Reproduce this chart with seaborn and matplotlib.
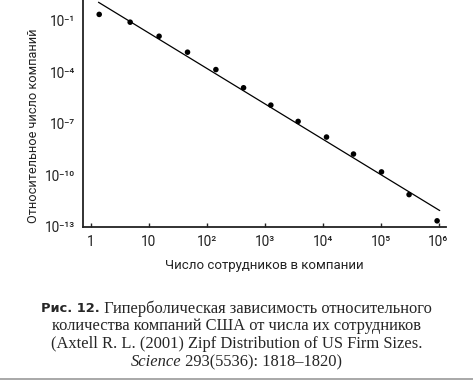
import numpy as np
import pandas as pd
import matplotlib
matplotlib.use("Agg")
import matplotlib.pyplot as plt
import seaborn as sns
from matplotlib.lines import Line2D

# --- данные ---
employees = [1.41, 4.82, 15.2, 47.0, 145, 435, 1285, 3795, 11720, 34200, 104000, 311000, 946000]
rel_freq = [2.3e-1, 8.1e-2, 1.23e-2, 1.45e-3, 1.41e-4, 1.23e-5, 1.2e-6, 1.35e-7,
            1.66e-8, 1.7e-9, 1.55e-10, 7.4e-12, 2.2e-13]
fit_x = [1.37, 1.05e6]
fit_y = [1.17, 8.7e-13]

x_ticks = [1, 10, 1e2, 1e3, 1e4, 1e5, 1e6]
x_labels = ["1", "10", "10²", "10³", "10⁴", "10⁵", "10⁶"]
y_ticks = [1e-1, 1e-4, 1e-7, 1e-10, 1e-13]
y_labels = ["10⁻¹", "10⁻⁴", "10⁻⁷", "10⁻¹⁰", "10⁻¹³"]

caption_lines = [
    "количества компаний США от числа их сотрудников",
    "(Axtell R. L. (2001) Zipf Distribution of US Firm Sizes.",
]

df = pd.DataFrame({"x": employees, "y": rel_freq})
fit = pd.DataFrame({"x": fit_x, "y": fit_y})

sns.set_theme(style="ticks")
plt.rcParams["font.family"] = ["Roboto", "DejaVu Sans"]

fig = plt.figure(figsize=(4.73, 3.80), dpi=100)
ax = fig.add_axes([0.1755, 0.4034, 0.943 - 0.1755, 0.5966])

sns.lineplot(data=fit, x="x", y="y", color="black", linewidth=0.9, ax=ax)
sns.scatterplot(data=df, x="x", y="y", color="black", s=16, edgecolor="none", ax=ax)

ax.set_xscale("log")
ax.set_yscale("log")
ax.set_xlim(10 ** -0.13, 10 ** 6.13)
ax.set_ylim(1e-13, 10 ** 0.2)
ax.minorticks_off()
ax.set_xticks(x_ticks)
ax.set_xticklabels(x_labels)
ax.set_yticks(y_ticks)
ax.set_yticklabels(y_labels)
ax.tick_params(axis="x", direction="in", length=3, width=1, pad=6, labelsize=9.8, colors="#222222")
ax.tick_params(axis="y", length=0, pad=6, labelsize=9.8, colors="#222222")
sns.despine(ax=ax)
for s in ["left", "bottom"]:
    ax.spines[s].set_linewidth(1.3)
    ax.spines[s].set_color("#222222")

ax.set_xlabel("Число сотрудников в компании", fontsize=9.5, color="#222222", labelpad=7)
ax.set_ylabel("Относительное число компаний", fontsize=9.2, color="#222222")
ax.yaxis.set_label_coords(-0.119, 0.445)

# --- подпись к рисунку ---
fig.canvas.draw()
r = fig.canvas.get_renderer()
fs = 11.9
serif = "Liberation Serif"
centers = [306.5, 324.5, 342.5, 360.5]

# строка 1: жирное "Рис. 12." + текст
t1 = fig.text(0, 0, "Рис. 12.", fontsize=9.4, fontweight="heavy", family="DejaVu Sans",
              va="center_baseline")
t2 = fig.text(0, 0, " Гиперболическая зависимость относительного", fontsize=fs, family=serif,
              va="center_baseline")
w1 = t1.get_window_extent(r).width
w2 = t2.get_window_extent(r).width
x0 = (473 - w1 - w2) / 2
y1 = 1 - centers[0] / 380
t1.set_position((x0 / 473, y1))
t2.set_position(((x0 + w1) / 473, y1))

for i, line in enumerate(caption_lines):
    fig.text(0.5, 1 - centers[i + 1] / 380, line, fontsize=fs, family=serif,
             ha="center", va="center_baseline")

# строка 4: курсив "Science" + продолжение
t3 = fig.text(0, 0, "Science", fontsize=fs, family=serif, style="italic", va="center_baseline")
t4 = fig.text(0, 0, " 293(5536): 1818–1820)", fontsize=fs, family=serif, va="center_baseline")
w3 = t3.get_window_extent(r).width
w4 = t4.get_window_extent(r).width
x0 = (473 - w3 - w4) / 2
y4 = 1 - centers[3] / 380
t3.set_position((x0 / 473, y4))
t4.set_position(((x0 + w3) / 473, y4))

fig.add_artist(Line2D([0, 1], [0.002, 0.002], color="#999999", linewidth=1.2))

fig.savefig("out.png", dpi=100)
